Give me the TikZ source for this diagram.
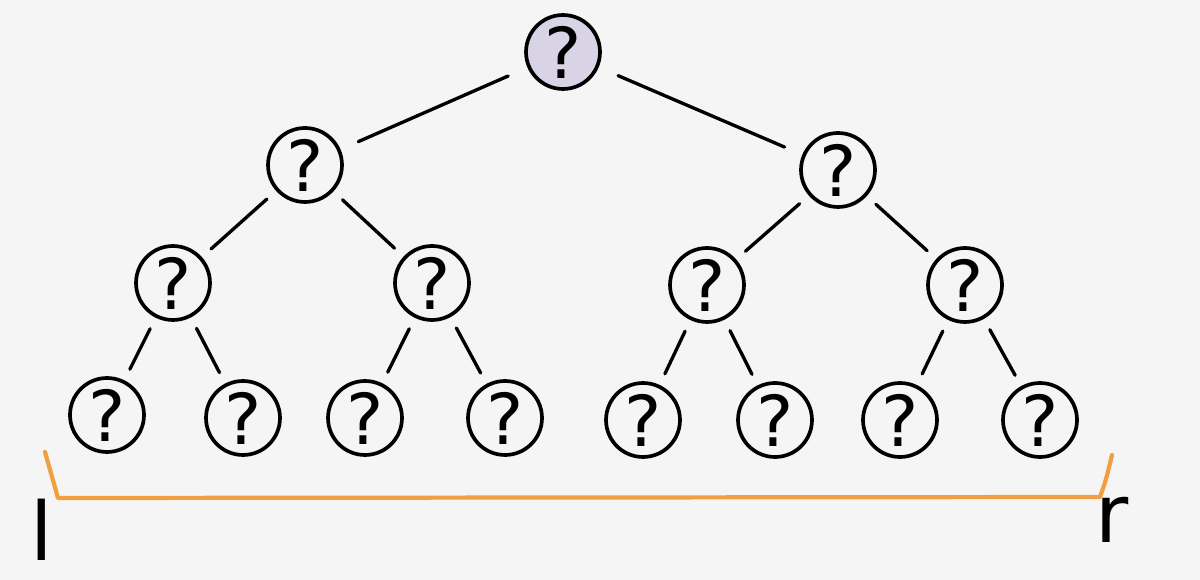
\documentclass[tikz,border=0pt]{standalone}
\usepackage{fontspec}
\setmainfont{DejaVu Sans}
\definecolor{bg}{HTML}{F5F5F5}
\definecolor{lav}{HTML}{D9D3E6}
\definecolor{orng}{HTML}{F0A040}
\begin{document}
\begin{tikzpicture}[x=0.02cm,y=-0.02cm,
  qnode/.style={circle,draw=black,line width=2.1pt,minimum size=1.48cm,inner sep=0pt,font=\fontsize{40}{40}\selectfont},
  rootnode/.style={qnode,fill=lav},
  edge/.style={line width=1.9pt,line cap=round,shorten >=7pt,shorten <=7pt},
  bracket/.style={draw=orng,line width=2.4pt,line join=round,line cap=round},
  lab/.style={font=\fontsize{46}{46}\selectfont}]
\fill[bg] (0,0) rectangle (1200,580);
\useasboundingbox (0,0) rectangle (1200,580);
\node[rootnode] (r) at (563,52) {?};
\node[qnode] (a) at (305,165) {?};
\node[qnode] (b) at (838,170) {?};
\node[qnode] (aa) at (173,283) {?};
\node[qnode] (ab) at (432,283) {?};
\node[qnode] (ba) at (707,285) {?};
\node[qnode] (bb) at (965,285) {?};
\node[qnode] (aaa) at (107,415) {?};
\node[qnode] (aab) at (243,418) {?};
\node[qnode] (aba) at (365,418) {?};
\node[qnode] (abb) at (505,418) {?};
\node[qnode] (baa) at (643,420) {?};
\node[qnode] (bab) at (775,420) {?};
\node[qnode] (bba) at (900,420) {?};
\node[qnode] (bbb) at (1040,420) {?};
\draw[edge,shorten >=11pt,shorten <=12pt] (r) -- (a);
\draw[edge,shorten >=11pt,shorten <=12pt] (r) -- (b);
\foreach \p/\c in {a/aa,a/ab,b/ba,b/bb,aa/aaa,aa/aab,ab/aba,ab/abb,ba/baa,ba/bab,bb/bba,bb/bbb}
  \draw[edge] (\p) -- (\c);
\coordinate (bl) at (45,452);
\coordinate (bl2) at (58,498);
\coordinate (br2) at (1100,497);
\coordinate (br) at (1112,455);
\draw[bracket] (bl) -- (bl2) -- (br2) .. controls (1106,480) .. (br);
\node[lab] (l) at (42,530) {l};
\node[lab] (rr) at (1112,520) {r};
\end{tikzpicture}
\end{document}
